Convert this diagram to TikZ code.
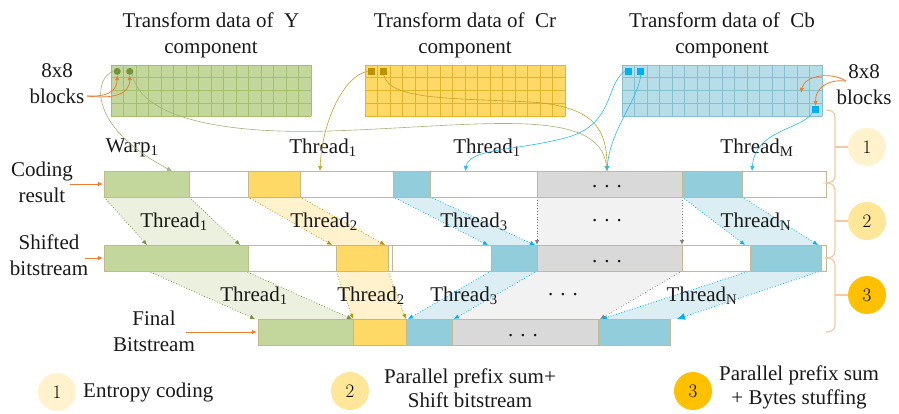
\documentclass[tikz,border=0pt]{standalone}
\usepackage{fontspec}
\newfontfamily\tnr{Liberation Serif}
\usetikzlibrary{arrows.meta}
\definecolor{gfill}{HTML}{C3D69B}
\definecolor{gline}{HTML}{A3BF6E}
\definecolor{gdark}{HTML}{76923C}
\definecolor{glight}{HTML}{EBF1DE}
\definecolor{yfill}{HTML}{FFD966}
\definecolor{yline}{HTML}{E3B52E}
\definecolor{ydark}{HTML}{BF9000}
\definecolor{ylight}{HTML}{FFF2CC}
\definecolor{bgrid}{HTML}{B7DDE8}
\definecolor{bline}{HTML}{86BFD0}
\definecolor{bbar}{HTML}{92CDDC}
\definecolor{bdark}{HTML}{00B0F0}
\definecolor{blight}{HTML}{DAEEF3}
\definecolor{grayfill}{HTML}{D9D9D9}
\definecolor{graylight}{HTML}{F2F2F2}
\definecolor{grayarr}{HTML}{808080}
\definecolor{bartan}{HTML}{C6B88C}
\definecolor{orng}{HTML}{ED7D31}
\definecolor{brc}{HTML}{F4C9A5}
\definecolor{cone}{HTML}{FFF2CC}
\definecolor{ctwo}{HTML}{FFE699}
\definecolor{cthree}{HTML}{FFC000}
\newcommand{\tgrid}[3]{%
  \fill[#2] (#1,65) rectangle ({#1+200},116);
  \foreach \i in {0,...,16} \draw[#3,line width=0.6pt] ({#1+12.5*\i},65) -- ({#1+12.5*\i},116);
  \foreach \j in {0,...,4} \draw[#3,line width=0.6pt] (#1,{65+12.75*\j}) -- ({#1+200},{65+12.75*\j});
}
\begin{document}
\begin{tikzpicture}[x=1pt,y=-1pt,
  lbl/.style={font=\tnr\fontsize{21}{26}\selectfont, inner sep=0pt, text=black!90},
  lgd/.style={font=\tnr\fontsize{21}{24}\selectfont, inner sep=0pt, text=black!90},
  num/.style={circle, inner sep=0pt, minimum size=38pt, font=\fontsize{19}{22}\selectfont},
  darr/.style={dotted, line width=0.8pt, -{Latex[length=5pt,width=4.5pt]}},
  carr/.style={line width=0.6pt, -{Latex[length=5pt,width=4.5pt]}},
  oarr/.style={orng, line width=0.8pt, -{Latex[length=5pt,width=4.5pt]}},
  seg/.style={draw=bartan, line width=0.7pt},
  dotbox/.style={inner sep=0pt, minimum size=7pt},
]
\useasboundingbox (0,0) rectangle (899,413);

% ---------- titles ----------
\node[lbl, align=center] (ty) at (211,35) {Transform data of \ Y\\component};
\node[lbl, align=center] (tcr) at (465,35) {Transform data of \ Cr\\component};
\node[lbl, align=center] (tcb) at (722,35) {Transform data of \ Cb\\component};

% ---------- grids ----------
\tgrid{111}{gfill}{gline}
\tgrid{365}{yfill}{yline}
\tgrid{622}{bgrid}{bline}

\node[dotbox, circle, fill=gdark] (gd1) at (117.25,71.4) {};
\node[dotbox, circle, fill=gdark] (gd2) at (129.75,71.4) {};
\node[dotbox, fill=ydark] (ys1) at (371.25,71.4) {};
\node[dotbox, fill=ydark] (ys2) at (383.75,71.4) {};
\node[dotbox, fill=bdark] (bs1) at (628.25,71.4) {};
\node[dotbox, fill=bdark] (bs2) at (640.75,71.4) {};
\node[dotbox, fill=bdark] (bs3) at (815.75,109.6) {};

% ---------- 8x8 blocks labels ----------
\node[lbl, align=center] (bl) at (57,84) {8x8\\blocks};
\node[lbl, align=center] (br) at (864,85) {8x8\\blocks};
\coordinate (lb) at (87,96);
\coordinate (rb) at (846,81);
\coordinate (rbt) at (801,93);
\draw[oarr] (lb) .. controls (106,97) and (117,92) .. (gd1.south);
\draw[oarr] (lb) .. controls (112,99) and (130,95) .. (gd2.south);
\draw[oarr] (rb) .. controls (830,71) and (804,76) .. (rbt);
\draw[oarr] (rb) .. controls (828,79) and (815,88) .. (bs3.north);

% ---------- labels above coding result ----------
\node[lbl] (warp) at (132,148) {Warp\textsubscript{1}};
\node[lbl] (th1a) at (323,148) {Thread\textsubscript{1}};
\node[lbl] (th1b) at (487,148) {Thread\textsubscript{1}};
\node[lbl] (thM) at (757,148) {Thread\textsubscript{M}};

\coordinate (warpT) at (172,171);
\coordinate (t1T) at (320,171);
\coordinate (t1bT) at (465,171);
\coordinate (dotsT) at (607,171);
\coordinate (tMT) at (752,171);

% ---------- connectors from grids ----------
\draw[carr, gdark!70] (gd1.west) .. controls (95,76) and (85,125) .. (warpT);
\draw[carr, gdark!70] (gd2.south east) .. controls (138,110) and (200,135) .. (330,131) .. controls (480,126) and (600,105) .. (dotsT);
\draw[carr, ydark!85] (ys1.west) .. controls (345,75) and (322,120) .. (t1T);
\draw[carr, ydark!85] (ys2.south) .. controls (390,100) and (450,98) .. (530,102) .. controls (595,106) and (607,130) .. (dotsT);
\draw[carr, bdark!85] (bs1.west) .. controls (605,85) and (615,125) .. (565,138) .. controls (515,151) and (470,148) .. (t1bT);
\draw[carr, bdark!85] (bs2.south) .. controls (638,100) and (610,130) .. (dotsT);
\draw[carr, bdark!85] (bs3.south west) .. controls (800,130) and (755,130) .. (tMT);

% ---------- parallelograms row1 -> row2 ----------
\fill[glight] (104,197) -- (189,197) -- (240,245) -- (147,245) -- cycle;
\fill[ylight] (248,197) -- (300,197) -- (385,245) -- (332,245) -- cycle;
\fill[blight] (393,197) -- (430,197) -- (535,245) -- (488,245) -- cycle;
\fill[graylight] (537,197) rectangle (682,245);
\fill[blight] (682,197) -- (742,197) -- (818,245) -- (745,245) -- cycle;

% ---------- parallelograms row2 -> row3 ----------
\fill[glight] (148,271) -- (245,271) -- (352,319) -- (255,319) -- cycle;
\fill[ylight] (336,271) -- (388,271) -- (406,319) -- (353,319) -- cycle;
\fill[blight] (491,271) -- (537,271) -- (454,319) -- (408,319) -- cycle;
\fill[graylight] (537,271) -- (682,271) -- (598,319) -- (454,319) -- cycle;
\fill[blight] (750,271) -- (821,271) -- (677,319) -- (600,319) -- cycle;

% ---------- dotted arrows row1 -> row2 ----------
\path (104,197) coordinate (a1) (147,245) coordinate (a2)
      (189,197) coordinate (a3) (240,245) coordinate (a4)
      (248,197) coordinate (a5) (332,245) coordinate (a6)
      (300,197) coordinate (a7) (385,245) coordinate (a8)
      (393,197) coordinate (a9) (488,245) coordinate (a10)
      (430,197) coordinate (a11) (535,245) coordinate (a12)
      (537,197) coordinate (a13) (537,245) coordinate (a14)
      (682,197) coordinate (a15) (682,245) coordinate (a16)
      (682,197) coordinate (a17) (745,245) coordinate (a18)
      (742,197) coordinate (a19) (818,245) coordinate (a20);
\draw[darr, gdark] (a1) -- (a2);
\draw[darr, gdark] (a3) -- (a4);
\draw[darr, ydark] (a5) -- (a6);
\draw[darr, ydark] (a7) -- (a8);
\draw[darr, bdark] (a9) -- (a10);
\draw[darr, bdark] (a11) -- (a12);
\draw[darr, grayarr] (a13) -- (a14);
\draw[darr, grayarr] (a15) -- (a16);
\draw[darr, bdark] (a17) -- (a18);
\draw[darr, bdark] (a19) -- (a20);

% ---------- dotted arrows row2 -> row3 ----------
\path (148,271) coordinate (b1) (255,319) coordinate (b2)
      (245,271) coordinate (b3) (352,319) coordinate (b4)
      (336,271) coordinate (b5) (353,319) coordinate (b6)
      (388,271) coordinate (b7) (406,319) coordinate (b8)
      (491,271) coordinate (b9) (408,319) coordinate (b10)
      (537,271) coordinate (b11) (454,319) coordinate (b12)
      (682,271) coordinate (b13) (600,319) coordinate (b14)
      (750,271) coordinate (b15) (602,319) coordinate (b16)
      (821,271) coordinate (b17) (677,319) coordinate (b18);
\draw[darr, gdark] (b1) -- (b2);
\draw[darr, gdark] (b3) -- (b4);
\draw[darr, ydark] (b5) -- (b6);
\draw[darr, ydark] (b7) -- (b8);
\draw[darr, bdark] (b9) -- (b10);
\draw[darr, bdark] (b11) -- (b12);
\draw[darr, grayarr] (b13) -- (b14);
\draw[darr, bdark] (b15) -- (b16);
\draw[darr, bdark, -{Latex[length=8pt,width=7pt]}] (b17) -- (b18);

% ---------- bar 1: coding result ----------
\draw[seg, fill=white] (104,171) rectangle (826,197);
\draw[seg, fill=gfill] (104,171) rectangle (189,197);
\draw[seg, fill=yfill] (248,171) rectangle (300,197);
\draw[seg, fill=bbar] (393,171) rectangle (430,197);
\draw[seg, fill=grayfill] (537,171) rectangle (682,197);
\draw[seg, fill=bbar] (682,171) rectangle (742,197);

% ---------- bar 2: shifted bitstream ----------
\draw[seg, fill=white] (104,245) rectangle (826,271);
\draw[seg, fill=gfill] (104,245) rectangle (248,271);
\draw[seg, fill=yfill] (336,245) rectangle (388,271);
\draw[seg] (392,245) -- (392,271);
\draw[seg, fill=bbar] (491,245) rectangle (537,271);
\draw[seg, fill=grayfill] (537,245) rectangle (682,271);
\draw[seg, fill=bbar] (750,245) rectangle (821,271);

% ---------- bar 3: final bitstream ----------
\draw[seg, fill=gfill] (258,319) rectangle (353,345);
\draw[seg, fill=yfill] (353,319) rectangle (406,345);
\draw[seg, fill=bbar] (406,319) rectangle (452,345);
\draw[seg, fill=grayfill] (452,319) rectangle (598,345);
\draw[seg, fill=bbar] (598,319) rectangle (670,345);

% ---------- dots ----------
\node[lbl] (d1) at (607,187) {. . .};
\node[lbl] (d2) at (607,221) {. . .};
\node[lbl] (d3) at (607,262) {. . .};
\node[lbl] (d4) at (563,295) {. . .};
\node[lbl] (d5) at (523,336) {. . .};

% ---------- thread labels between bars ----------
\node[lbl] (r1) at (174,222) {Thread\textsubscript{1}};
\node[lbl] (r2) at (324,222) {Thread\textsubscript{2}};
\node[lbl] (r3) at (474,222) {Thread\textsubscript{3}};
\node[lbl] (rN) at (756,222) {Thread\textsubscript{N}};
\node[lbl] (s1l) at (254,296) {Thread\textsubscript{1}};
\node[lbl] (s2l) at (371,296) {Thread\textsubscript{2}};
\node[lbl] (s3l) at (464,296) {Thread\textsubscript{3}};
\node[lbl] (sNl) at (702,296) {Thread\textsubscript{N}};

% ---------- left labels ----------
\node[lbl, align=center] (cr) at (42,182) {Coding\\result};
\node[lbl, align=center] (sb) at (49,255) {Shifted\\bitstream};
\node[lbl, align=center] (fb) at (154,331) {Final\\Bitstream};
\coordinate (cr1) at (70,184);  \coordinate (cr2) at (103,184);
\coordinate (sb1) at (85,258);  \coordinate (sb2) at (103,258);
\coordinate (fb1) at (186,332); \coordinate (fb2) at (257,332);
\draw[oarr] (cr1) -- (cr2);
\draw[oarr] (sb1) -- (sb2);
\draw[oarr] (fb1) -- (fb2);

% ---------- braces and step circles ----------
\draw[brc, line width=1.2pt] (826,110) .. controls (831,110) and (835,112) .. (835,117) -- (835,176)
  .. controls (835,181) and (831,183) .. (826,183) .. controls (831,183) and (835,185) .. (835,190) -- (835,251)
  .. controls (835,256) and (831,258) .. (826,258) .. controls (831,258) and (835,260) .. (835,265) -- (835,325)
  .. controls (835,330) and (831,332) .. (826,332);
\node[num, fill=cone] (c1) at (867,147) {1};
\node[num, fill=ctwo] (c2) at (867,221) {2};
\node[num, fill=cthree] (c3) at (867,295) {3};
\coordinate (k1) at (835,147); \coordinate (k2) at (835,221); \coordinate (k3) at (835,295);
\draw[brc, line width=1.2pt] (k1) -- (c1.west);
\draw[brc, line width=1.2pt] (k2) -- (c2.west);
\draw[brc, line width=1.2pt] (k3) -- (c3.west);

% ---------- legend ----------
\node[num, fill=cone] (l1) at (57,392) {1};
\node[lbl, anchor=west] (l1t) at (83,392) {Entropy coding};
\node[num, fill=ctwo] (l2) at (350,391) {2};
\node[lgd, align=center] (l2t) at (470,388) {Parallel prefix sum+\\Shift bitstream};
\node[num, fill=cthree] (l3) at (693,391) {3};
\node[lgd, align=center] (l3t) at (799,387) {Parallel prefix sum\\+ Bytes stuffing};
\end{tikzpicture}
\end{document}
